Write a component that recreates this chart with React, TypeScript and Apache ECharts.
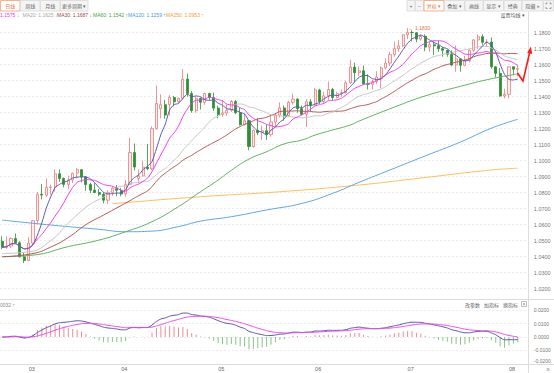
import React, { useEffect, useRef } from 'react';
import * as echarts from 'echarts';

const FONT = '"Liberation Sans", Arial, "Noto Sans CJK SC", sans-serif';

// trading days per month (categories)
const monthDays: [string, number[]][] = [
  ['02', [21, 24, 25, 26, 27, 28]],
  ['03', [3, 4, 5, 6, 7, 10, 11, 12, 13, 14, 17, 18, 19, 20, 21, 24, 25, 26, 27, 28, 31]],
  ['04', [1, 2, 3, 4, 7, 8, 9, 10, 11, 14, 15, 16, 17, 18, 21, 22, 23, 24, 25, 28, 29, 30]],
  ['05', [1, 2, 5, 6, 7, 8, 9, 12, 13, 14, 15, 16, 19, 20, 21, 22, 23, 26, 27, 28, 29, 30]],
  ['06', [2, 3, 4, 5, 6, 9, 10, 11, 12, 13, 16, 17, 18, 19, 20, 23, 24, 25, 26, 27, 30]],
  ['07', [1, 2, 3, 4, 7, 8, 9, 10, 11, 14, 15, 16, 17, 18, 21, 22, 23, 24, 25, 28, 29, 30, 31]],
  ['08', [1, 4, 5, 6, 7]],
];
const dates: string[] = monthDays.flatMap(([m, ds]) => ds.map((d) => `2025-${m}-${String(d).padStart(2, '0')}`));

// [open, close, low, high]
const ohlc: number[][] = [
  [1.0497, 1.0459, 1.0447, 1.0528], [1.0459, 1.0466, 1.0449, 1.0528], [1.0466, 1.0514, 1.0454, 1.0520],
  [1.0514, 1.0487, 1.0481, 1.0545], [1.0487, 1.0399, 1.0396, 1.0497], [1.0399, 1.0376, 1.0360, 1.0424],
  [1.0376, 1.0485, 1.0372, 1.0522], [1.0485, 1.0625, 1.0466, 1.0630], [1.0625, 1.0790, 1.0603, 1.0805],
  [1.0790, 1.0785, 1.0758, 1.0855], [1.0785, 1.0833, 1.0774, 1.0889], [1.0833, 1.0836, 1.0788, 1.0850],
  [1.0836, 1.0918, 1.0807, 1.0947], [1.0918, 1.0889, 1.0868, 1.0945], [1.0889, 1.0852, 1.0833, 1.0895],
  [1.0852, 1.0880, 1.0821, 1.0906], [1.0880, 1.0922, 1.0860, 1.0925], [1.0922, 1.0944, 1.0890, 1.0955],
  [1.0944, 1.0898, 1.0865, 1.0947], [1.0898, 1.0851, 1.0812, 1.0903], [1.0851, 1.0816, 1.0797, 1.0862],
  [1.0816, 1.0801, 1.0797, 1.0859], [1.0801, 1.0790, 1.0778, 1.0823], [1.0790, 1.0753, 1.0733, 1.0802],
  [1.0753, 1.0800, 1.0730, 1.0815], [1.0800, 1.0829, 1.0780, 1.0840], [1.0829, 1.0815, 1.0777, 1.0848],
  [1.0815, 1.0792, 1.0778, 1.0830], [1.0792, 1.0852, 1.0775, 1.0880], [1.0852, 1.1051, 1.0850, 1.1144],
  [1.1051, 1.0960, 1.0940, 1.1107], [1.0890, 1.0905, 1.0860, 1.0945], [1.0905, 1.0960, 1.0900, 1.1000],
  [1.0960, 1.0950, 1.0940, 1.1105], [1.0950, 1.1200, 1.0940, 1.1215], [1.1200, 1.1357, 1.1195, 1.1470],
  [1.1325, 1.1350, 1.1265, 1.1415], [1.1350, 1.1285, 1.1262, 1.1380], [1.1352, 1.1395, 1.1280, 1.1410],
  [1.1395, 1.1368, 1.1340, 1.1405], [1.1368, 1.1390, 1.1360, 1.1395], [1.1390, 1.1510, 1.1380, 1.1573],
  [1.1510, 1.1420, 1.1400, 1.1545], [1.1420, 1.1313, 1.1300, 1.1435], [1.1313, 1.1390, 1.1300, 1.1400],
  [1.1390, 1.1365, 1.1320, 1.1395], [1.1365, 1.1420, 1.1350, 1.1425], [1.1420, 1.1395, 1.1380, 1.1425],
  [1.1395, 1.1329, 1.1310, 1.1425], [1.1329, 1.1289, 1.1265, 1.1345], [1.1289, 1.1298, 1.1275, 1.1380],
  [1.1298, 1.1315, 1.1280, 1.1350], [1.1315, 1.1370, 1.1305, 1.1380], [1.1370, 1.1300, 1.1290, 1.1380],
  [1.1300, 1.1225, 1.1220, 1.1330], [1.1225, 1.1250, 1.1220, 1.1295], [1.1250, 1.1089, 1.1065, 1.1255],
  [1.1089, 1.1190, 1.1080, 1.1195], [1.1190, 1.1175, 1.1160, 1.1265], [1.1175, 1.1187, 1.1130, 1.1220],
  [1.1187, 1.1163, 1.1130, 1.1227], [1.1163, 1.1242, 1.1150, 1.1285], [1.1242, 1.1285, 1.1210, 1.1300],
  [1.1285, 1.1330, 1.1270, 1.1365], [1.1330, 1.1283, 1.1250, 1.1345], [1.1283, 1.1365, 1.1275, 1.1375],
  [1.1365, 1.1385, 1.1350, 1.1420], [1.1385, 1.1325, 1.1300, 1.1390], [1.1325, 1.1290, 1.1285, 1.1345],
  [1.1290, 1.1368, 1.1210, 1.1385], [1.1368, 1.1347, 1.1310, 1.1385], [1.1347, 1.1442, 1.1345, 1.1455],
  [1.1442, 1.1370, 1.1355, 1.1450], [1.1370, 1.1405, 1.1360, 1.1430], [1.1405, 1.1445, 1.1380, 1.1495],
  [1.1445, 1.1395, 1.1375, 1.1455], [1.1395, 1.1420, 1.1390, 1.1430], [1.1420, 1.1425, 1.1400, 1.1445],
  [1.1425, 1.1487, 1.1420, 1.1500], [1.1487, 1.1585, 1.1480, 1.1631], [1.1585, 1.1550, 1.1490, 1.1613],
  [1.1550, 1.1562, 1.1530, 1.1590], [1.1562, 1.1480, 1.1475, 1.1595], [1.1480, 1.1478, 1.1445, 1.1540],
  [1.1478, 1.1495, 1.1445, 1.1505], [1.1495, 1.1523, 1.1480, 1.1560], [1.1523, 1.1580, 1.1453, 1.1590],
  [1.1580, 1.1610, 1.1570, 1.1640], [1.1610, 1.1663, 1.1590, 1.1680], [1.1663, 1.1700, 1.1650, 1.1745],
  [1.1700, 1.1718, 1.1680, 1.1755], [1.1718, 1.1787, 1.1710, 1.1790], [1.1787, 1.1802, 1.1760, 1.1830],
  [1.1802, 1.1800, 1.1745, 1.1815], [1.1800, 1.1760, 1.1740, 1.1790], [1.1760, 1.1778, 1.1750, 1.1790],
  [1.1778, 1.1710, 1.1685, 1.1790], [1.1710, 1.1725, 1.1680, 1.1745], [1.1725, 1.1718, 1.1660, 1.1745],
  [1.1718, 1.1700, 1.1680, 1.1750], [1.1700, 1.1690, 1.1650, 1.1710], [1.1690, 1.1665, 1.1650, 1.1695],
  [1.1665, 1.1598, 1.1590, 1.1690], [1.1598, 1.1636, 1.1555, 1.1720], [1.1636, 1.1596, 1.1556, 1.1640],
  [1.1596, 1.1625, 1.1590, 1.1655], [1.1625, 1.1690, 1.1615, 1.1695], [1.1690, 1.1755, 1.1680, 1.1760],
  [1.1755, 1.1775, 1.1700, 1.1790], [1.1775, 1.1740, 1.1725, 1.1790], [1.1740, 1.1742, 1.1710, 1.1760],
  [1.1742, 1.1587, 1.1575, 1.1770], [1.1587, 1.1546, 1.1520, 1.1590], [1.1546, 1.1404, 1.1400, 1.1580],
  [1.1404, 1.1415, 1.1390, 1.1450], [1.1415, 1.1587, 1.1390, 1.1590], [1.1587, 1.1572, 1.1535, 1.1590],
  [1.1572, 1.1575, 1.1528, 1.1597],
];

// long moving averages: [index, value]
const ma20Lead: number[][] = [[0, 1.042], [6, 1.043], [11, 1.05], [15, 1.061]];
const ma30Lead: number[][] = [[0, 1.040], [7, 1.042], [11, 1.046], [15, 1.052], [19, 1.060], [23, 1.066], [26, 1.0705]];
const ma60Pts: number[][] = [
  [0, 1.040], [7, 1.041], [15, 1.0463], [22, 1.0504], [28, 1.0556], [34, 1.0619], [40, 1.0713], [45, 1.0806],
  [49, 1.0879], [52, 1.094], [56, 1.101], [60, 1.1056], [64, 1.1105], [68, 1.1129], [71, 1.116], [75, 1.1192],
  [79, 1.1223], [81, 1.1248], [89, 1.1335], [96, 1.1405], [104, 1.1465], [111, 1.1512], [117, 1.1542],
];
const ma120Pts: number[][] = [
  [0, 1.0629], [11, 1.0598], [22, 1.0571], [28, 1.0556], [34, 1.056], [40, 1.0588], [45, 1.0622], [52, 1.065],
  [60, 1.0692], [68, 1.0733], [75, 1.0796], [81, 1.0865], [88, 1.0942], [96, 1.103], [104, 1.1117],
  [111, 1.1203], [117, 1.1259],
];
const ma250Pts: number[][] = [[25, 1.0731], [45, 1.0775], [63, 1.0806], [81, 1.0848], [96, 1.0895], [111, 1.0942], [117, 1.0953]];

const legendItems: [string, number, string][] = [
  ['1.1575 ↓', 0, '#e040e0'],
  ['MA20: 1.1625 ↓', 22.5, '#a6a6a6'],
  ['MA30: 1.1687 ↓', 57, '#a04848'],
  ['MA60: 1.1542 ↑', 93, '#3f9f3f'],
  ['MA120: 1.1259 ↑', 128, '#4a98e0'],
  ['MA250: 1.0953 ↑', 166, '#f0a030'],
];
const leftButtons: [string, number, number, boolean][] = [
  ['日线', 0.5, 19.5, true], ['周线', 20.5, 19.5, false], ['月线', 40.5, 19.5, false], ['更多周期 ▾', 60.5, 27.5, false],
];
const rightButtons: [string, number, number, boolean][] = [
  ['+', 407, 8, false], ['−', 415.5, 8, false], ['复权 ▾', 424, 20, true], ['叠加 ▾', 444.5, 20, false],
  ['画线', 465, 18, false], ['显示 ▾', 483.5, 20, false], ['经典', 504, 17.5, false], ['隐藏 »', 522, 21, false],
];
const indicatorLinks: [string, number][] = [['改参数', 465], ['加指标', 484], ['换指标', 503]];

const closes = ohlc.map((c) => c[1]);
const avg = (a: number[]) => a.reduce((s, v) => s + v, 0) / a.length;
const maPartial = (n: number) => closes.map((_, i) => avg(closes.slice(Math.max(0, i - n + 1), i + 1)));
const maFrom = (n: number) =>
  closes.map((_, i) => (i >= n - 1 ? [i, avg(closes.slice(i - n + 1, i + 1))] : null)).filter((p) => p) as number[][];

const ma5 = maPartial(5);
const ma10 = maPartial(10);
const ma20 = [...ma20Lead, ...maFrom(20)];
const ma30 = [...ma30Lead, ...maFrom(30)];

const dif: number[] = [];
const dea: number[] = [];
const hist: number[] = [];
{
  let e12 = closes[0];
  let e26 = closes[0];
  let d = 0;
  closes.forEach((c, i) => {
    if (i > 0) {
      e12 += ((c - e12) * 2) / 13;
      e26 += ((c - e26) * 2) / 27;
    }
    const df = e12 - e26;
    d += ((df - d) * 2) / 10;
    dif.push(df);
    dea.push(d);
    hist.push(2 * (df - d));
  });
}

const line = (name: string, data: any[], color: string, smooth: number | boolean = true) => ({
  type: 'line', name, data, xAxisIndex: 0, yAxisIndex: 0, symbol: 'none', smooth, silent: true,
  connectNulls: true, lineStyle: { color, width: 1 }, z: 3,
});

function buildGraphics() {
  const g: any[] = [];
  const btn = (t: string, x: number, w: number, active: boolean) => {
    g.push({ type: 'rect', shape: { x, y: 0.5, width: w, height: 10.5 }, style: { fill: active ? '#fff' : '#f4f4f4', stroke: active ? '#f0a070' : '#d8d8d8', lineWidth: 0.8 } });
    g.push({ type: 'text', x: x + w / 2, y: 6, style: { text: t, fill: active ? '#e8743b' : '#666', fontSize: 5, fontFamily: FONT, align: 'center', verticalAlign: 'middle' } });
  };
  leftButtons.forEach(([t, x, w, a]) => btn(t, x, w, a));
  rightButtons.forEach(([t, x, w, a]) => btn(t, x, w, a));
  // fullscreen icon
  g.push({ type: 'rect', shape: { x: 543.5, y: 0.5, width: 10, height: 10.5 }, style: { fill: '#f4f4f4', stroke: '#d8d8d8', lineWidth: 0.8 } });
  const c = (pts: number[][]) => g.push({ type: 'polyline', shape: { points: pts }, style: { stroke: '#777', lineWidth: 0.7, fill: 'none' } });
  c([[546, 4.5], [546, 3], [547.5, 3]]); c([[549.5, 3], [551, 3], [551, 4.5]]);
  c([[546, 7], [546, 8.5], [547.5, 8.5]]); c([[549.5, 8.5], [551, 8.5], [551, 7]]);

  legendItems.forEach(([t, x, col]) =>
    g.push({ type: 'text', x, y: 15, style: { text: t, fill: col, fontSize: 5, fontFamily: FONT, verticalAlign: 'middle' } })
  );
  g.push({ type: 'text', x: 525, y: 15, style: { text: '设置均线 ▾', fill: '#555', fontSize: 5, fontFamily: FONT, align: 'right', verticalAlign: 'middle' } });

  // separators
  g.push({ type: 'line', shape: { x1: 528.5, y1: 12, x2: 528.5, y2: 373 }, style: { stroke: '#dcdcdc', lineWidth: 1 } });
  g.push({ type: 'line', shape: { x1: 0, y1: 299.5, x2: 554, y2: 299.5 }, style: { stroke: '#dcdcdc', lineWidth: 1 } });
  g.push({ type: 'line', shape: { x1: 0, y1: 364.5, x2: 554, y2: 364.5 }, style: { stroke: '#dcdcdc', lineWidth: 1 } });

  // MACD header
  g.push({ type: 'text', x: 0, y: 304.5, style: { text: '0032 ↑', fill: '#888', fontSize: 5, fontFamily: FONT, verticalAlign: 'middle' } });
  indicatorLinks.forEach(([t, x]) =>
    g.push({ type: 'text', x, y: 304.5, style: { text: t, fill: '#666', fontSize: 5, fontFamily: FONT, verticalAlign: 'middle' } })
  );
  g.push({ type: 'rect', shape: { x: 521.5, y: 301.5, width: 5, height: 5 }, style: { fill: '#fff', stroke: '#999', lineWidth: 0.6 } });
  g.push({ type: 'text', x: 524, y: 304.2, style: { text: '×', fill: '#777', fontSize: 5, fontFamily: FONT, align: 'center', verticalAlign: 'middle' } });
  g.push({ type: 'text', x: 548, y: 369.5, style: { text: '»', fill: '#888', fontSize: 6.5, fontFamily: FONT, align: 'center', verticalAlign: 'middle' } });

  // red prediction arrow
  g.push({ type: 'polyline', shape: { points: [[517.5, 73], [523, 81], [529.8, 52]] }, style: { stroke: '#ff1a1a', lineWidth: 1.6, fill: 'none' }, z: 20 });
  g.push({ type: 'polygon', shape: { points: [[530.9, 46.5], [532.2, 54], [527.2, 52.8]] }, style: { fill: '#ff1a1a' }, z: 20 });
  return g;
}

export default function App() {
  const ref = useRef<HTMLDivElement>(null);
  useEffect(() => {
    if (!ref.current) return;
    const chart = echarts.init(ref.current, null, { renderer: 'svg' });
    const gridL = -0.4;
    const gridR = 554 - 528.8;
    const option: any = {
      animation: false,
      backgroundColor: '#ffffff',
      textStyle: { fontFamily: FONT },
      grid: [
        { left: gridL, right: gridR, top: 16.7, height: 288 },
        { left: gridL, right: gridR, top: 299.7, height: 63.9 },
      ],
      xAxis: [
        { type: 'category', gridIndex: 0, data: dates, boundaryGap: true, axisLine: { show: false }, axisTick: { show: false }, axisLabel: { show: false }, splitLine: { show: false } },
        {
          type: 'category', gridIndex: 1, data: dates, boundaryGap: true,
          axisLine: { show: false }, axisTick: { show: false }, splitLine: { show: false },
          axisLabel: {
            fontSize: 5.5, color: '#666', fontFamily: FONT, align: 'left', margin: 2.6,
            interval: (i: number, v: string) => i > 0 && v.slice(5, 7) !== dates[i - 1].slice(5, 7),
            formatter: (v: string) => v.slice(5, 7),
          },
        },
      ],
      yAxis: [
        {
          type: 'value', gridIndex: 0, position: 'right', min: 1.01, max: 1.19, interval: 0.01,
          axisLine: { show: false }, axisTick: { show: false },
          axisLabel: { fontSize: 5.5, color: '#777', margin: 5, fontFamily: FONT, showMinLabel: false, showMaxLabel: false, formatter: (v: number) => v.toFixed(4) },
          splitLine: { show: true, showMinLine: false, showMaxLine: false, lineStyle: { color: '#e6e6e6', type: [2, 2], width: 0.8 } },
        },
        {
          type: 'value', gridIndex: 1, position: 'right', min: -0.02, max: -0.02 + 63.9 / 1330, interval: 0.01,
          axisLine: { show: false }, axisTick: { show: false },
          axisLabel: {
            fontSize: 5, color: '#777', margin: 5, fontFamily: FONT, showMaxLabel: false,
            formatter: (v: number) => (v < -0.0195 ? `{lo|${v.toFixed(4)}}` : v.toFixed(4)),
            rich: { lo: { fontSize: 5, color: '#777', fontFamily: FONT, padding: [0, 0, 5, 0] } },
          },
          splitLine: { show: true, showMinLine: false, showMaxLine: false, lineStyle: { color: '#e6e6e6', type: [2, 2], width: 0.8 } },
        },
      ],
      graphic: buildGraphics(),
      series: [
        {
          type: 'candlestick', xAxisIndex: 0, yAxisIndex: 0, data: ohlc, barWidth: 2.6, silent: true, z: 2,
          itemStyle: { color: '#fff0f0', color0: '#2f8f36', borderColor: '#ee7a7a', borderColor0: '#2f8f36', borderWidth: 0.8 },
          markPoint: {
            symbol: 'circle', symbolSize: 0, silent: true,
            data: [{ type: 'max', valueDim: 'highest', name: 'max' }],
            label: { show: true, position: 'right', distance: 1, fontSize: 5, color: '#e8733c', fontFamily: FONT, formatter: (p: any) => '← ' + Number(p.value).toFixed(4) },
          },
        },
        line('MA250', ma250Pts, '#ffbf5a'),
        line('MA120', ma120Pts, '#5ea6ea'),
        line('MA60', ma60Pts, '#5fb35f'),
        line('MA30', ma30, '#b25555'),
        line('MA20', ma20, '#c4c4c4'),
        line('MA10', ma10, '#f03cf0', 0.2),
        line('MA5', ma5, '#5a5ab4', 0.2),
        {
          type: 'bar', xAxisIndex: 1, yAxisIndex: 1, barWidth: 1, silent: true,
          data: hist.map((v) => ({ value: v, itemStyle: { color: v >= 0 ? '#f08c8c' : '#86c486' } })),
        },
        { type: 'line', xAxisIndex: 1, yAxisIndex: 1, data: dif, symbol: 'none', smooth: 0.2, silent: true, lineStyle: { color: '#5555aa', width: 1 } },
        { type: 'line', xAxisIndex: 1, yAxisIndex: 1, data: dea, symbol: 'none', smooth: 0.2, silent: true, lineStyle: { color: '#f044f0', width: 1 } },
      ],
    };
    chart.setOption(option);
    return () => chart.dispose();
  }, []);
  return <div ref={ref} style={{ position: 'fixed', left: 0, top: 0, width: 554, height: 373, background: '#fff' }} />;
}
